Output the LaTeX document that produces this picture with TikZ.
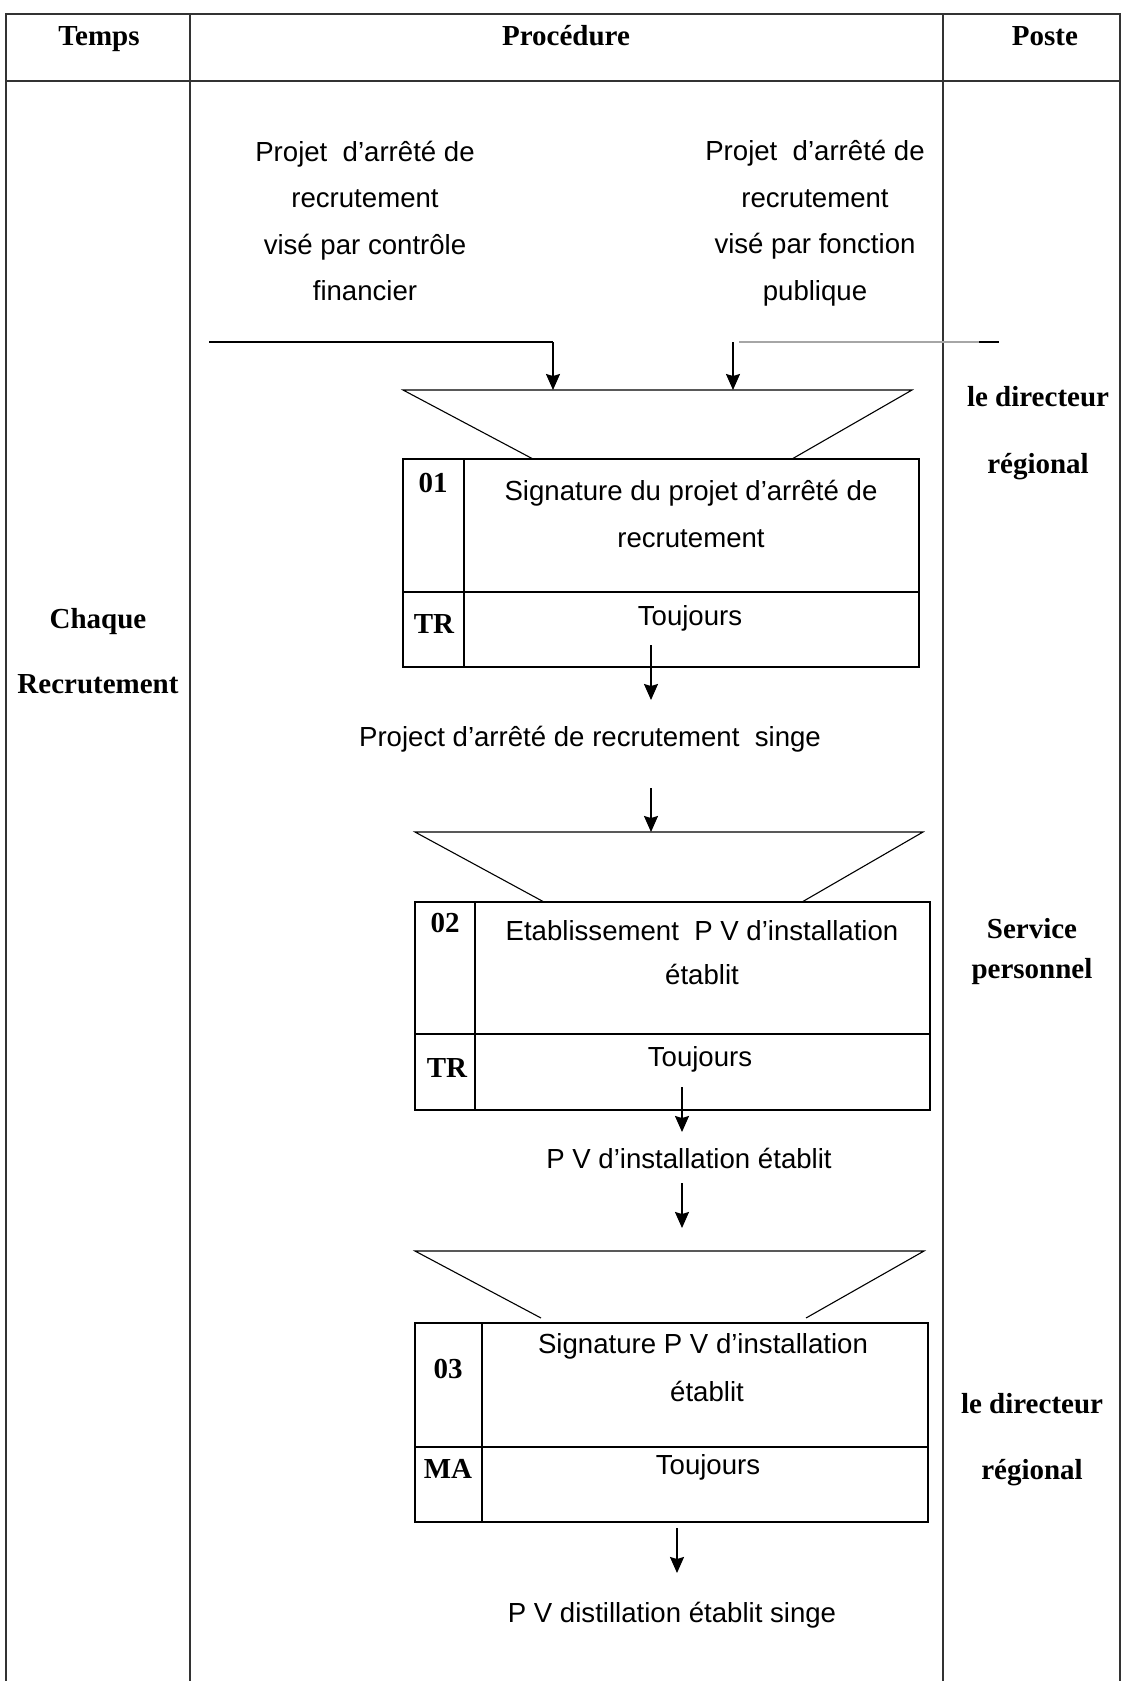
\documentclass[tikz,border=0pt]{standalone}
\usepackage{fontspec}
\setmainfont{Liberation Serif}
\newfontfamily\sansarial{Liberation Sans}
\usetikzlibrary{arrows.meta}
\begin{document}
\begin{tikzpicture}[x=0.5pt,y=-0.5pt,
  rule/.style={line width=0.6pt, draw=black!80},
  cell/.style={line width=0.75pt},
  cellthick/.style={line width=1.05pt},
  funnel/.style={line width=0.55pt},
  feed/.style={line width=0.9pt},
  flow/.style={line width=0.8pt, -{Stealth[length=8pt,width=7pt,inset=1pt]}},
  strong/.style={font=\bfseries\fontsize{14.5}{#1}\selectfont, align=center, inner sep=0pt},
  strong/.default={17},
  txt/.style={font=\sansarial\fontsize{13.8}{#1}\selectfont, align=center, inner sep=0pt},
  txt/.default={23.3},
  oneline/.style={text height=0.72em, text depth=0.22em},
]
\useasboundingbox (0,0) rectangle (1122,1681);

% table grid
\draw[rule] (6,1681) -- (6,14) -- (1120,14) -- (1120,1681);
\draw[rule] (6,81) -- (1120,81);
\draw[rule] (190,14) -- (190,1681);
\draw[rule] (943,14) -- (943,1681);

% column headers
\node[strong,oneline] (hTemps) at (99,41) {Temps};
\node[strong,oneline] (hProc) at (566,41) {Procédure};
\node[strong,oneline] (hPoste) at (1045,41) {Poste};

% time column
\node[strong=32.5] (freq) at (98,651) {Chaque\\Recrutement};

% post column
\node[strong=33.5] (post1) at (1038,433) {le directeur\\régional};
\node[strong=20] (post2) at (1032,952) {Service\\personnel};
\node[strong=33] (post3) at (1032,1440) {le directeur\\régional};

% incoming documents
\node[txt] (inCF) at (365,221) {Projet\ \ d’arrêté de\\recrutement\\visé par contrôle\\financier};
\node[txt] (inFP) at (815,223) {Projet\ \ d’arrêté de\\recrutement\\visé par fonction\\publique};

\coordinate (cfStart) at (209,342);
\coordinate (cfDrop) at (553,342);
\coordinate (fpDrop) at (733,342);
\coordinate (fpGrey) at (739,342);
\coordinate (fpEnd) at (979,342);
\coordinate (fpTick) at (999,342);
\draw[feed] (cfStart) -- (cfDrop);
\draw[line width=0.6pt, black!35] (fpGrey) -- (fpEnd);
\draw[feed] (fpEnd) -- (fpTick);

% step 01
\coordinate (t1L) at (403,390);
\coordinate (t1R) at (912,390);
\coordinate (t1BL) at (533,459);
\coordinate (t1BR) at (792,459);
\coordinate (t1in1) at (553,390);
\coordinate (t1in2) at (733,390);
\draw[funnel] (t1BL) -- (t1L) -- (t1R) -- (t1BR);
\draw[flow] (cfDrop) -- (t1in1);
\draw[flow] (fpDrop) -- (t1in2);

\coordinate (b1nw) at (403,459);
\coordinate (b1se) at (919,667);
\draw[cell] (b1nw) rectangle (b1se);
\draw[cell] (464,459) -- (464,667);
\draw[cell] (403,592) -- (919,592);
\node[strong,oneline] (n01) at (433,487) {01};
\node[strong,oneline] (trA) at (434,628) {TR};
\node[txt] (op1) at (691,514) {Signature du projet d’arrêté de\\recrutement};
\node[txt,oneline] (f1) at (690,620) {Toujours};

\coordinate (a3s) at (651,645);
\coordinate (a3e) at (651,700);
\draw[flow] (a3s) -- (a3e);
\node[txt,oneline] (out1) at (590,741) {Project d’arrêté de recrutement\ \ singe};

% step 02
\coordinate (a4s) at (651,788);
\coordinate (t2in) at (651,832);
\draw[flow] (a4s) -- (t2in);
\coordinate (t2L) at (415,832);
\coordinate (t2R) at (923,832);
\coordinate (t2BL) at (544,902);
\coordinate (t2BR) at (802,902);
\draw[funnel] (t2BL) -- (t2L) -- (t2R) -- (t2BR);

\coordinate (b2nw) at (415,902);
\coordinate (b2se) at (930,1110);
\draw[cell] (b2nw) rectangle (b2se);
\draw[cell] (475,902) -- (475,1110);
\draw[cell] (415,1034) -- (930,1034);
\node[strong,oneline] (n02) at (445,927) {02};
\node[strong,oneline] (trB) at (447,1072) {TR};
\node[txt=22] (op2) at (702,953) {Etablissement\ \ P V d’installation\\établit};
\node[txt,oneline] (f2) at (700,1061) {Toujours};

\coordinate (a5s) at (682,1087);
\coordinate (a5e) at (682,1132);
\draw[flow] (a5s) -- (a5e);
\node[txt,oneline] (out2) at (689,1163) {P V d’installation établit};

% step 03
\coordinate (a6s) at (682,1183);
\coordinate (a6e) at (682,1228);
\draw[flow] (a6s) -- (a6e);
\coordinate (t3L) at (415,1251);
\coordinate (t3R) at (924,1251);
\coordinate (t3BL) at (541,1318);
\coordinate (t3BR) at (806,1318);
\draw[funnel] (t3BL) -- (t3L) -- (t3R) -- (t3BR);

\coordinate (b3nw) at (415,1323);
\coordinate (b3se) at (928,1522);
\draw[cellthick] (b3nw) rectangle (b3se);
\draw[cellthick] (482,1323) -- (482,1522);
\draw[cellthick] (415,1447) -- (928,1447);
\node[strong,oneline] (n03) at (448,1373) {03};
\node[strong,oneline] (maC) at (448,1473) {MA};
\node[txt=24] (op3) at (703,1368) {Signature P V d’installation\\\hspace*{4pt}établit};
\node[txt,oneline] (f3) at (708,1469) {Toujours};

\coordinate (a7s) at (677,1528);
\coordinate (a7e) at (677,1573);
\draw[flow] (a7s) -- (a7e);
\node[txt,oneline] (out3) at (672,1617) {P V distillation établit singe};
\end{tikzpicture}
\end{document}
